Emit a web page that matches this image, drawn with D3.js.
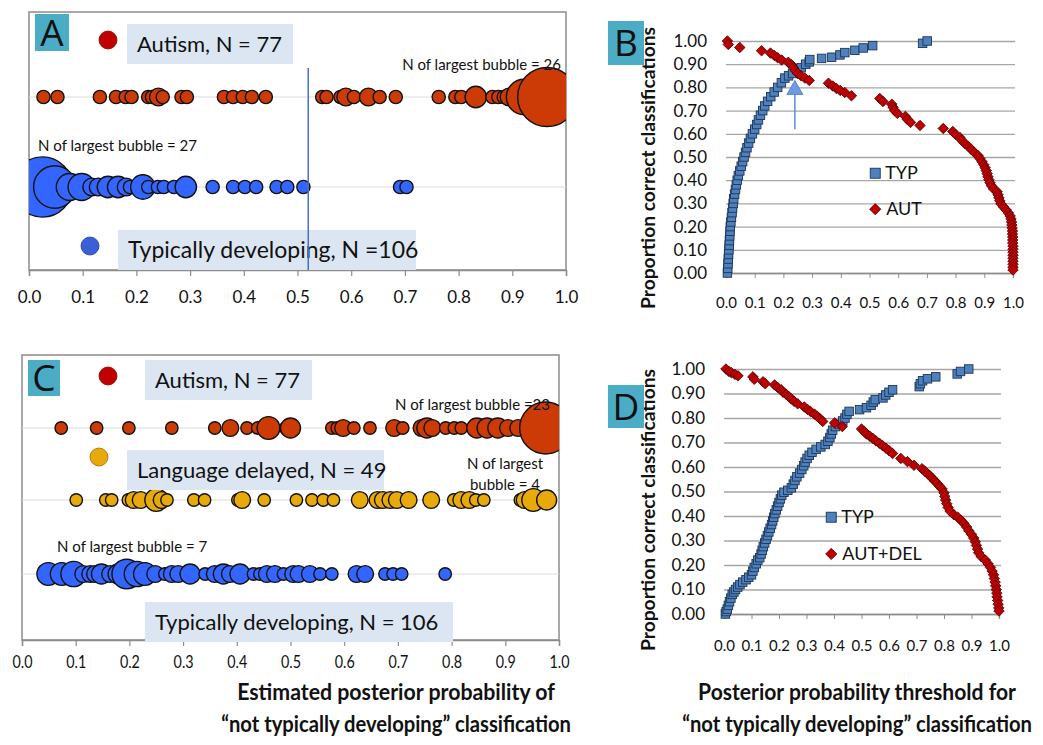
<!DOCTYPE html>
<html>
<head>
<meta charset="utf-8">
<script src="https://cdn.jsdelivr.net/npm/d3@7"></script>
<style>
body { margin: 0; background: #fff; }
text { font-family: Lato, "Open Sans", sans-serif; fill: #111; }
</style>
</head>
<body>
<svg id="fig" width="1043" height="745"></svg>
<script>
// ---- data ----
var probTicks = [0, 0.1, 0.2, 0.3, 0.4, 0.5, 0.6, 0.7, 0.8, 0.9, 1.0];
var propTicks = [0, 0.1, 0.2, 0.3, 0.4, 0.5, 0.6, 0.7, 0.8, 0.9, 1.0];

// panel A bubbles: [posterior probability, N]
var aAutism = [[0.027,1],[0.053,1],[0.132,1],[0.162,1],[0.180,1],[0.191,1],[0.222,1],[0.229,1],[0.241,2],[0.249,1],
  [0.284,1],[0.294,1],[0.363,1],[0.380,1],[0.398,1],[0.415,1],[0.441,1],[0.546,1],[0.554,1],[0.580,1],[0.590,2],
  [0.605,1],[0.632,2],[0.653,1],[0.683,1],[0.763,1],[0.794,1],[0.805,1],[0.832,3],[0.863,1],[0.874,1],[0.884,1],
  [0.894,2],[0.922,9],[0.965,26]];
var aTypical = [[0.025,27],[0.048,13],[0.076,5],[0.098,5],[0.117,2],[0.129,2],[0.147,3],[0.166,3],[0.181,2],[0.188,1],
  [0.212,4],[0.222,1],[0.240,1],[0.251,1],[0.270,1],[0.292,3],[0.342,1],[0.380,1],[0.402,1],[0.423,1],[0.461,1],
  [0.481,1],[0.511,1],[0.691,1],[0.703,1]];
var aThreshold = 0.52;

// panel C bubbles
var cAutism = [[0.073,1],[0.139,1],[0.199,1],[0.279,1],[0.359,1],[0.388,2],[0.419,1],[0.439,1],[0.459,4],[0.491,1],
  [0.500,3],[0.577,1],[0.587,1],[0.598,2],[0.618,1],[0.648,1],[0.693,2],[0.709,1],[0.744,2],[0.754,3],[0.764,2],
  [0.789,1],[0.805,1],[0.818,1],[0.847,3],[0.866,3],[0.886,3],[0.905,2],[0.924,2],[0.975,23]];
var cDelayed = [[0.101,1],[0.156,1],[0.167,1],[0.198,1],[0.208,2],[0.221,2],[0.250,4],[0.260,2],[0.270,1],[0.320,1],
  [0.340,1],[0.402,1],[0.410,2],[0.451,1],[0.511,1],[0.540,1],[0.561,1],[0.580,1],[0.629,2],[0.662,2],[0.672,2],
  [0.686,2],[0.698,2],[0.720,2],[0.762,2],[0.804,1],[0.818,2],[0.833,2],[0.845,1],[0.860,1],[0.928,1],[0.936,2],
  [0.952,4],[0.977,3]];
var cTypical = [[0.049,4],[0.074,4],[0.096,5],[0.114,2],[0.127,2],[0.136,2],[0.148,3],[0.164,2],[0.179,3],[0.195,7],
  [0.214,5],[0.229,4],[0.248,2],[0.266,1],[0.279,2],[0.291,2],[0.313,3],[0.341,1],[0.359,2],[0.375,3],[0.387,2],
  [0.406,3],[0.431,1],[0.443,1],[0.456,2],[0.471,2],[0.487,1],[0.505,2],[0.515,2],[0.536,2],[0.555,1],[0.577,1],
  [0.623,2],[0.639,2],[0.676,1],[0.691,1],[0.707,1],[0.788,1]];

// panel B: [threshold, proportion correct]
var bTyp = [[0.005,0.00],[0.006,0.02],[0.007,0.04],[0.008,0.06],[0.009,0.08],[0.010,0.10],[0.011,0.12],[0.012,0.14],
  [0.013,0.16],[0.014,0.18],[0.015,0.20],[0.017,0.22],[0.019,0.24],[0.021,0.26],[0.023,0.28],[0.025,0.30],[0.027,0.32],
  [0.030,0.34],[0.033,0.36],[0.036,0.38],[0.039,0.40],[0.043,0.42],[0.048,0.44],[0.053,0.46],[0.058,0.48],[0.063,0.50],
  [0.068,0.52],[0.073,0.54],[0.079,0.56],[0.085,0.58],[0.092,0.60],[0.100,0.62],[0.107,0.64],[0.113,0.66],[0.120,0.68],
  [0.128,0.70],[0.135,0.72],[0.145,0.74],[0.156,0.76],[0.168,0.78],[0.180,0.80],[0.193,0.82],[0.205,0.84],[0.218,0.85],
  [0.232,0.86],[0.248,0.875],[0.262,0.885],[0.278,0.90],[0.290,0.91],[0.292,0.92],[0.333,0.925],[0.368,0.93],
  [0.397,0.94],[0.414,0.95],[0.449,0.96],[0.478,0.97],[0.511,0.98],[0.685,0.99],[0.701,1.00]];
var bAut = [[0.005,1.00],[0.008,0.985],[0.048,0.972],[0.124,0.958],[0.155,0.948],[0.168,0.938],[0.180,0.928],[0.194,0.918],
  [0.217,0.908],[0.228,0.898],[0.235,0.885],[0.242,0.872],[0.250,0.86],[0.262,0.85],[0.275,0.84],[0.290,0.83],[0.357,0.818],
  [0.372,0.806],[0.385,0.795],[0.398,0.787],[0.414,0.778],[0.437,0.764],[0.536,0.752],[0.547,0.739],[0.578,0.727],
  [0.582,0.714],[0.587,0.701],[0.597,0.688],[0.625,0.675],[0.632,0.662],[0.643,0.649],[0.676,0.636],[0.757,0.623],
  [0.790,0.61],[0.800,0.597],[0.815,0.584],[0.822,0.571],[0.832,0.558],[0.845,0.545],[0.855,0.532],[0.866,0.519],
  [0.878,0.506],[0.885,0.493],[0.892,0.48],[0.898,0.467],[0.903,0.454],[0.907,0.441],[0.910,0.428],[0.913,0.415],
  [0.916,0.402],[0.920,0.389],[0.925,0.376],[0.932,0.363],[0.945,0.35],[0.948,0.337],[0.951,0.324],[0.954,0.311],
  [0.958,0.298],[0.967,0.285],[0.976,0.272],[0.984,0.259],[0.990,0.246],[0.993,0.233],[0.995,0.22],[0.996,0.207],
  [0.997,0.194],[0.998,0.181],[0.998,0.168],[0.999,0.155],[0.999,0.142],[0.999,0.129],[1.0,0.116],[1.0,0.103],
  [1.0,0.09],[1.0,0.077],[1.0,0.064],[1.0,0.051],[1.0,0.038],[1.0,0.025],[1.0,0.013]];
var bArrowAt = [0.24, 0.62, 0.83];

// panel D
var dTyp = [[0.005,0.00],[0.008,0.01],[0.012,0.02],[0.016,0.035],[0.020,0.05],[0.025,0.065],[0.030,0.08],[0.036,0.09],
  [0.042,0.10],[0.050,0.11],[0.058,0.12],[0.068,0.13],[0.080,0.14],[0.090,0.15],[0.100,0.16],[0.105,0.175],[0.110,0.19],
  [0.117,0.205],[0.123,0.22],[0.130,0.23],[0.135,0.245],[0.139,0.26],[0.143,0.275],[0.148,0.29],[0.153,0.305],
  [0.158,0.32],[0.163,0.335],[0.168,0.35],[0.173,0.365],[0.177,0.38],[0.181,0.395],[0.185,0.41],[0.190,0.425],
  [0.195,0.44],[0.200,0.455],[0.205,0.47],[0.210,0.485],[0.218,0.497],[0.232,0.505],[0.245,0.515],[0.252,0.53],
  [0.258,0.545],[0.265,0.56],[0.275,0.575],[0.283,0.59],[0.290,0.605],[0.295,0.62],[0.302,0.635],[0.310,0.648],
  [0.320,0.66],[0.335,0.672],[0.352,0.682],[0.368,0.692],[0.378,0.705],[0.385,0.72],[0.390,0.735],[0.395,0.75],
  [0.405,0.765],[0.418,0.775],[0.432,0.788],[0.440,0.80],[0.447,0.815],[0.455,0.827],[0.493,0.834],[0.518,0.842],
  [0.535,0.852],[0.543,0.865],[0.550,0.875],[0.578,0.882],[0.588,0.894],[0.600,0.905],[0.613,0.915],[0.710,0.928],
  [0.714,0.94],[0.722,0.952],[0.740,0.96],[0.770,0.968],[0.848,0.98],[0.860,0.99],[0.890,1.00]];
var dAutDel = [[0.007,1.0],[0.018,0.99],[0.027,0.985],[0.040,0.978],[0.051,0.972],[0.105,0.968],[0.110,0.958],[0.142,0.948],
  [0.150,0.94],[0.184,0.935],[0.195,0.925],[0.208,0.915],[0.215,0.905],[0.226,0.897],[0.235,0.888],[0.245,0.878],
  [0.255,0.868],[0.268,0.858],[0.292,0.845],[0.304,0.835],[0.315,0.826],[0.329,0.816],[0.340,0.806],[0.350,0.796],
  [0.359,0.786],[0.402,0.78],[0.430,0.765],[0.500,0.755],[0.510,0.745],[0.518,0.735],[0.530,0.726],[0.541,0.717],
  [0.552,0.707],[0.565,0.697],[0.577,0.687],[0.589,0.677],[0.600,0.667],[0.613,0.655],[0.643,0.635],[0.667,0.622],
  [0.691,0.607],[0.720,0.593],[0.730,0.583],[0.740,0.573],[0.750,0.563],[0.758,0.553],[0.767,0.543],[0.775,0.533],
  [0.784,0.521],[0.793,0.51],[0.800,0.495],[0.803,0.48],[0.806,0.465],[0.810,0.45],[0.815,0.435],[0.822,0.42],
  [0.836,0.405],[0.850,0.395],[0.862,0.383],[0.872,0.37],[0.882,0.355],[0.890,0.34],[0.900,0.325],[0.908,0.31],
  [0.914,0.295],[0.918,0.28],[0.922,0.265],[0.926,0.25],[0.935,0.235],[0.950,0.22],[0.960,0.205],[0.969,0.19],
  [0.975,0.175],[0.980,0.16],[0.983,0.145],[0.986,0.13],[0.988,0.115],[0.990,0.10],[0.992,0.085],[0.993,0.07],
  [0.995,0.055],[0.997,0.04],[0.999,0.025],[1.0,0.012]];

var yTitle = 'Proportion correct classifications';
var titleLine2 = '\u201cnot typically developing\u201d classification';

var svg = d3.select('#fig');
var defs = svg.append('defs');

function panelLetter(letter, x, y, w, h) {
    svg.append('rect').attr('x', x).attr('y', y).attr('width', w).attr('height', h).attr('fill', '#4bacc6');
    svg.append('text').attr('x', x + w / 2).attr('y', y + h / 2 + 13).attr('text-anchor', 'middle')
        .style('font-size', '37px').style('font-family', '"Open Sans", sans-serif').text(letter);
}

function labelBox(txt, x, y, w, h, size) {
    svg.append('rect').attr('x', x).attr('y', y).attr('width', w).attr('height', h).attr('fill', '#dce6f2');
    svg.append('text').attr('x', x + 10).attr('y', y + h / 2 + size * 0.36).style('font-size', size + 'px').text(txt);
}

function legendDot(x, y, fill, stroke) {
    svg.append('circle').attr('cx', x).attr('cy', y).attr('r', 9).attr('fill', fill).attr('stroke', stroke).attr('stroke-width', 0.8);
}

function note(txt, x, y, anchor) {
    svg.append('text').attr('x', x).attr('y', y).attr('text-anchor', anchor || 'start').style('font-size', '15px').text(txt);
}

function bubblePanel(cfg) {
    var x = d3.scaleLinear().domain([0, 1]).range([cfg.left, cfg.right]);
    defs.append('clipPath').attr('id', cfg.id).append('rect')
        .attr('x', cfg.left).attr('y', cfg.top).attr('width', cfg.right - cfg.left).attr('height', cfg.bottom - cfg.top);

    svg.append('rect').attr('x', cfg.left).attr('y', cfg.top)
        .attr('width', cfg.right - cfg.left).attr('height', cfg.bottom - cfg.top)
        .attr('fill', 'none').attr('stroke', '#8c8c8c').attr('stroke-width', 1.5);

    var g = svg.append('g').attr('clip-path', 'url(#' + cfg.id + ')');
    cfg.rows.forEach(function (row) {
        g.append('line').attr('x1', cfg.left).attr('x2', cfg.right).attr('y1', row.y).attr('y2', row.y)
            .attr('stroke', '#dcdcdc').attr('stroke-width', 1);
        g.selectAll(null).data(row.data).enter().append('circle')
            .attr('cx', function (d) { return x(d[0]); })
            .attr('cy', row.y)
            .attr('r', function (d) { return cfg.k * Math.sqrt(d[1]) + 1; })
            .attr('fill', row.color)
            .attr('stroke', '#111')
            .attr('stroke-width', 1.4);
    });

    var ax = svg.append('g').attr('transform', 'translate(0,' + cfg.bottom + ')')
        .call(d3.axisBottom(x).tickValues(probTicks).tickFormat(d3.format('.1f')).tickSize(6).tickPadding(cfg.pad));
    ax.select('.domain').attr('stroke', '#8c8c8c').attr('stroke-width', 1.5);
    ax.selectAll('.tick line').attr('stroke', '#8c8c8c').attr('stroke-width', 1.2);
    var tt = ax.selectAll('.tick text').style('font-size', '17px').attr('fill', '#111');
    if (cfg.labelLen) {
        tt.attr('textLength', cfg.labelLen).attr('lengthAdjust', 'spacingAndGlyphs');
    }
    return x;
}

function square(sel, x, y, s) {
    sel.attr('x', x - s / 2).attr('y', y - s / 2).attr('width', s).attr('height', s);
}

function curvePanel(cfg) {
    var x = d3.scaleLinear().domain([0, 1]).range([cfg.left, cfg.right]);
    var y = d3.scaleLinear().domain([0, 1]).range([cfg.bottom, cfg.top]);

    var gy = svg.append('g').attr('transform', 'translate(' + cfg.left + ',0)')
        .call(d3.axisLeft(y).tickValues(propTicks).tickFormat(d3.format('.2f'))
            .tickSize(-(cfg.right - cfg.left + 2)).tickPadding(19));
    gy.select('.domain').remove();
    gy.selectAll('.tick line').attr('stroke', '#a6a6a6').attr('stroke-width', 1.3);
    gy.selectAll('.tick text').style('font-size', '17px').attr('fill', '#111');

    var gx = svg.append('g').attr('transform', 'translate(0,' + cfg.bottom + ')')
        .call(d3.axisBottom(x).tickValues(probTicks).tickFormat(d3.format('.1f')).tickSize(5).tickPadding(cfg.pad));
    gx.select('.domain').attr('stroke', '#8c8c8c').attr('stroke-width', 1.3);
    gx.selectAll('.tick line').attr('stroke', '#8c8c8c');
    gx.selectAll('.tick text').style('font-size', '15px').attr('fill', '#111');

    svg.append('g').selectAll('rect').data(cfg.typ).enter().append('rect')
        .each(function (d) { square(d3.select(this), x(d[0]), y(d[1]), 8.5); })
        .attr('fill', '#4f81bd').attr('stroke', '#1c3557').attr('stroke-width', 0.9);

    svg.append('g').selectAll('path').data(cfg.aut).enter().append('path')
        .attr('d', d3.symbol(d3.symbolDiamond2, 70))
        .attr('transform', function (d) { return 'translate(' + x(d[0]) + ',' + y(d[1]) + ')'; })
        .attr('fill', '#c00000').attr('stroke', '#4a0000').attr('stroke-width', 0.8);

    // legend
    var lx = x(cfg.legendX);
    svg.append('rect').call(square, lx, y(cfg.legendY[0]), 10)
        .attr('fill', '#4f81bd').attr('stroke', '#1c3557').attr('stroke-width', 0.9);
    svg.append('text').attr('x', lx + 10).attr('y', y(cfg.legendY[0]) + 6).style('font-size', '18px').text('TYP');
    svg.append('path').attr('d', d3.symbol(d3.symbolDiamond2, 80))
        .attr('transform', 'translate(' + lx + ',' + y(cfg.legendY[1]) + ')')
        .attr('fill', '#c00000').attr('stroke', '#4a0000').attr('stroke-width', 0.8);
    svg.append('text').attr('x', lx + 11).attr('y', y(cfg.legendY[1]) + 6).style('font-size', '18px').text(cfg.autLabel);

    svg.append('text').attr('transform', 'translate(' + cfg.titleX + ',' + cfg.titleY + ') rotate(-90)')
        .attr('text-anchor', 'middle').attr('textLength', 282).attr('lengthAdjust', 'spacingAndGlyphs')
        .style('font-size', '18px').style('font-weight', 'bold').text(yTitle);
    return {x: x, y: y};
}

// ---- panel A ----
var xa = bubblePanel({id: 'clipA', left: 29, right: 566, top: 12, bottom: 270, pad: 15, k: 5.6,
    rows: [{y: 97, data: aAutism, color: '#cc3a06'}, {y: 187, data: aTypical, color: '#3366ff'}]});
panelLetter('A', 35, 14, 34, 37);
legendDot(108, 40, '#c00000', '#800000');
labelBox('Autism, N = 77', 127, 24, 166, 40, 22);
note('N of largest bubble = 26', 561, 70, 'end');
note('N of largest bubble = 27', 38, 151);
legendDot(90, 246, '#3a5fd6', '#1f3a99');
labelBox('Typically developing, N =106', 118, 230, 298, 40, 23);
svg.append('line').attr('x1', xa(aThreshold)).attr('x2', xa(aThreshold)).attr('y1', 68).attr('y2', 270)
    .attr('stroke', '#4472c4').attr('stroke-width', 1.5);

// ---- panel C ----
bubblePanel({id: 'clipC', left: 22, right: 559, top: 355, bottom: 640, pad: 10, k: 5.2, labelLen: 20,
    rows: [{y: 428, data: cAutism, color: '#cc3a06'}, {y: 500, data: cDelayed, color: '#e8a90a'},
           {y: 574, data: cTypical, color: '#3366ff'}]});
panelLetter('C', 28, 360, 32, 36);
legendDot(108, 376, '#c00000', '#800000');
labelBox('Autism, N = 77', 145, 360, 167, 40, 22);
note('N of largest bubble =23', 550, 410, 'end');
legendDot(99, 457, '#e8a90a', '#9a6c00');
labelBox('Language delayed, N = 49', 127, 450, 257, 40, 22);
note('N of largest', 505, 469, 'middle');
note('bubble = 4', 505, 490, 'middle');
note('N of largest bubble = 7', 57, 552);
legendDot(164, 621, '#3a5fd6', '#1f3a99');
labelBox('Typically developing, N = 106', 145, 602, 308, 40, 22);

// ---- panel B ----
var sb = curvePanel({left: 726, right: 1013, top: 41, bottom: 273, pad: 19, typ: bTyp, aut: bAut,
    legendX: 0.52, legendY: [0.43, 0.275], autLabel: 'AUT', titleX: 655, titleY: 168});
panelLetter('B', 608, 21, 36, 44);
var ax0 = sb.x(bArrowAt[0]);
svg.append('line').attr('x1', ax0).attr('x2', ax0).attr('y1', sb.y(bArrowAt[1])).attr('y2', sb.y(bArrowAt[2]) + 12)
    .attr('stroke', '#5b8bd9').attr('stroke-width', 1.5);
svg.append('path').attr('d', d3.line()([[ax0 - 8, sb.y(bArrowAt[2]) + 14], [ax0 + 8, sb.y(bArrowAt[2]) + 14], [ax0, sb.y(bArrowAt[2])]]) + 'Z')
    .attr('fill', '#6d9be3').attr('stroke', '#4a78c8').attr('stroke-width', 0.8);

// ---- panel D ----
curvePanel({left: 724, right: 999, top: 369, bottom: 614, pad: 21, typ: dTyp, aut: dAutDel,
    legendX: 0.39, legendY: [0.395, 0.245], autLabel: 'AUT+DEL', titleX: 655, titleY: 510});
panelLetter('D', 608, 385, 36, 43);

// ---- bottom titles (condensed bold, squeezed horizontally) ----
function bottomTitle(cx, lines) {
    lines.forEach(function (t, i) {
        var target = i === 0 ? 318 : 350;
        var txt = svg.append('text').attr('text-anchor', 'middle')
            .style('font-size', '22px').style('font-weight', 'bold').text(t);
        var w = txt.node().getComputedTextLength();
        txt.attr('transform', 'translate(' + cx + ',' + (700 + i * 32) + ') scale(' + (target / w) + ',1)');
    });
}
bottomTitle(396, ['Estimated posterior probability  of', titleLine2]);
bottomTitle(857, ['Posterior probability threshold  for', titleLine2]);
</script>
</body>
</html>
